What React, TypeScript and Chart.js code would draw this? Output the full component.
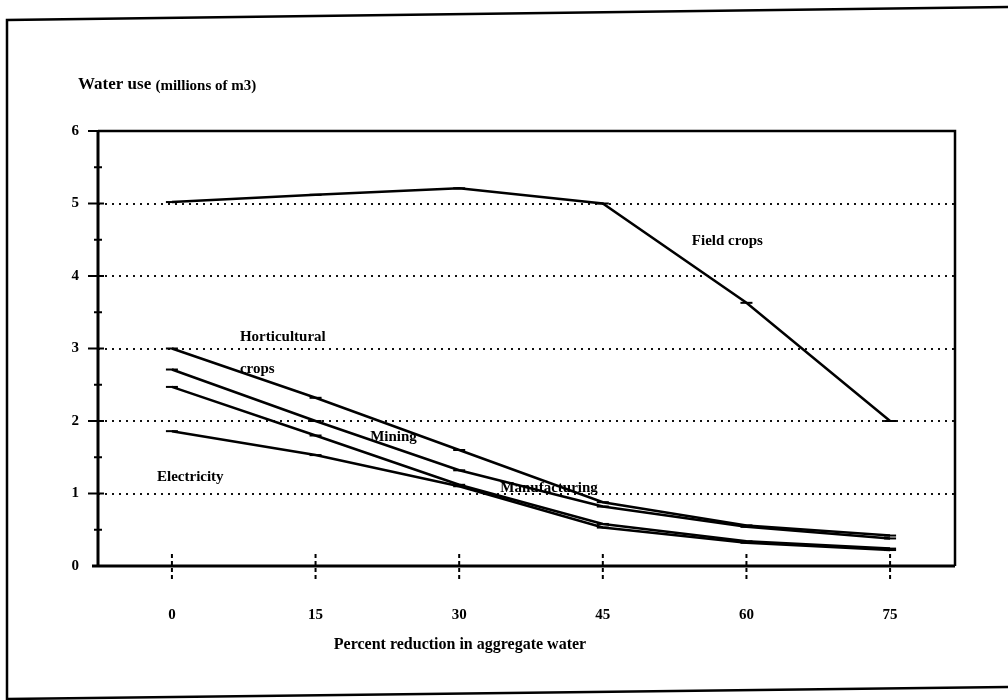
import React, { useEffect, useRef } from "react";
import { Chart, registerables } from "chart.js";

Chart.register(...registerables);

// ---- data ----
const percentReduction = [0, 15, 30, 45, 60, 75];
const fieldCrops = [5.02, 5.12, 5.21, 5.0, 3.63, 2.0];
const horticulturalCrops = [3.0, 2.32, 1.6, 0.88, 0.56, 0.42];
const mining = [2.71, 2.0, 1.32, 0.82, 0.54, 0.38];
const manufacturing = [2.47, 1.8, 1.12, 0.58, 0.34, 0.24];
const electricity = [1.86, 1.53, 1.1, 0.53, 0.32, 0.22];
const yTickValues = [0, 1, 2, 3, 4, 5, 6];
const yGridValues = [1, 2, 3, 4, 5];

const seriesNames = ["Field crops", "Horticultural crops", "Mining", "Manufacturing", "Electricity"];
const seriesValues = [fieldCrops, horticulturalCrops, mining, manufacturing, electricity];

const yTitleMain = "Water use";
const yTitleUnit = "(millions of m3)";
const xTitle = "Percent reduction in aggregate water";

// in-chart series labels, anchored in data coordinates (left edge, middle)
const seriesLabelAnchors = [
  { text: "Field crops", x: 54.3, y: 4.48 },
  { text: "Horticultural", x: 7.1, y: 3.16 },
  { text: "crops", x: 7.1, y: 2.72 },
  { text: "Mining", x: 20.7, y: 1.78 },
  { text: "Manufacturing", x: 34.3, y: 1.08 },
  { text: "Electricity", x: -1.56, y: 1.23 },
];

const FONT = "'Liberation Serif', 'DejaVu Serif', serif";

const decorPlugin = {
  id: "decor",
  beforeDatasetsDraw(chart: any) {
    const { ctx, chartArea, scales } = chart;
    const ys = scales.y;
    ctx.save();
    ctx.strokeStyle = "#111";
    ctx.lineWidth = 2;
    ctx.setLineDash([2, 5]);
    yGridValues.forEach((v) => {
      const py = Math.round(ys.getPixelForValue(v));
      ctx.beginPath();
      ctx.moveTo(chartArea.left, py);
      ctx.lineTo(chartArea.right, py);
      ctx.stroke();
    });
    ctx.setLineDash([]);
    ctx.restore();
  },
  afterDraw(chart: any) {
    const { ctx, chartArea, scales } = chart;
    const xs = scales.x;
    const ys = scales.y;
    const { left, right, top, bottom } = chartArea;
    ctx.save();
    ctx.strokeStyle = "#000";
    ctx.lineCap = "butt";
    // plot box
    ctx.lineWidth = 2.5;
    ctx.beginPath();
    ctx.moveTo(left, top);
    ctx.lineTo(right, top);
    ctx.lineTo(right, bottom);
    ctx.stroke();
    ctx.lineWidth = 3;
    ctx.beginPath();
    ctx.moveTo(left, top);
    ctx.lineTo(left, bottom);
    ctx.stroke();
    ctx.beginPath();
    ctx.moveTo(left - 6, bottom);
    ctx.lineTo(right, bottom);
    ctx.stroke();

    // y major ticks
    ctx.lineWidth = 2;
    yTickValues.forEach((v) => {
      if (v === 0) return;
      const py = ys.getPixelForValue(v);
      ctx.beginPath();
      ctx.moveTo(left - 10, py);
      ctx.lineTo(left + 6, py);
      ctx.stroke();
    });
    // y minor ticks
    yTickValues.forEach((v) => {
      if (v === 6) return;
      const py = ys.getPixelForValue(v + 0.5);
      ctx.beginPath();
      ctx.moveTo(left - 4, py);
      ctx.lineTo(left + 4, py);
      ctx.stroke();
    });
    // x ticks (broken vertical marks crossing the axis)
    ctx.setLineDash([4, 3]);
    percentReduction.forEach((v) => {
      const px = xs.getPixelForValue(v);
      ctx.beginPath();
      ctx.moveTo(px, bottom - 12);
      ctx.lineTo(px, bottom + 14);
      ctx.stroke();
    });
    ctx.setLineDash([]);

    // series labels
    ctx.fillStyle = "#000";
    ctx.textBaseline = "middle";
    ctx.textAlign = "left";
    ctx.font = `bold 15px ${FONT}`;
    seriesLabelAnchors.forEach((l) => {
      ctx.fillText(l.text, xs.getPixelForValue(l.x), ys.getPixelForValue(l.y));
    });

    // y title (top-left)
    ctx.font = `bold 17px ${FONT}`;
    ctx.fillText(yTitleMain, 78, 85);
    const w = ctx.measureText(yTitleMain + " ").width;
    ctx.font = `bold 15px ${FONT}`;
    ctx.fillText(yTitleUnit, 78 + w, 86);

    // x title
    ctx.textAlign = "center";
    ctx.font = `bold 16px ${FONT}`;
    ctx.fillText(xTitle, 460, 645);

    // outer frame (scanned page border)
    ctx.lineWidth = 2.5;
    ctx.beginPath();
    ctx.moveTo(1010, 7);
    ctx.lineTo(7, 20);
    ctx.lineTo(7, 699);
    ctx.lineTo(1010, 687);
    ctx.stroke();
    ctx.restore();
  },
};

export default function App() {
  const canvasRef = useRef<HTMLCanvasElement | null>(null);

  useEffect(() => {
    const canvas = canvasRef.current;
    if (!canvas) return;
    const datasets = seriesNames.map((name, i) => ({
      label: name,
      data: percentReduction.map((x, j) => ({ x, y: seriesValues[i][j] })),
      borderColor: "#000",
      backgroundColor: "#000",
      borderWidth: 2.5,
      tension: 0,
      fill: false,
      pointStyle: "line",
      pointRadius: 6,
      pointBorderWidth: 2,
      pointBorderColor: "#000",
    }));

    const chart = new Chart(canvas, {
      type: "line",
      data: { datasets },
      plugins: [decorPlugin],
      options: {
        responsive: false,
        animation: false,
        layout: { padding: { left: 0, top: 131, right: 53, bottom: 0 } },
        plugins: {
          legend: { display: false },
          tooltip: { enabled: false },
          title: { display: false },
        },
        scales: {
          x: {
            type: "linear",
            min: -7.72,
            max: 81.78,
            afterFit: (s: any) => {
              s.height = 134;
            },
            afterBuildTicks: (s: any) => {
              s.ticks = percentReduction.map((v) => ({ value: v }));
            },
            grid: { display: false, drawTicks: false },
            border: { display: false },
            ticks: {
              padding: 40,
              color: "#000",
              font: { family: FONT, size: 15, weight: "bold" },
              callback: (v: any) => String(v),
            },
          },
          y: {
            type: "linear",
            min: 0,
            max: 6,
            afterFit: (s: any) => {
              s.width = 98;
            },
            afterBuildTicks: (s: any) => {
              s.ticks = yTickValues.map((v) => ({ value: v }));
            },
            grid: { display: false, drawTicks: false },
            border: { display: false },
            ticks: {
              padding: 19,
              color: "#000",
              font: { family: FONT, size: 15, weight: "bold" },
              callback: (v: any) => String(v),
            },
          },
        },
      },
    });
    return () => chart.destroy();
  }, []);

  return (
    <div style={{ position: "absolute", left: 0, top: 0, width: 1008, height: 700, background: "#fff" }}>
      <canvas ref={canvasRef} width={1008} height={700} />
    </div>
  );
}
